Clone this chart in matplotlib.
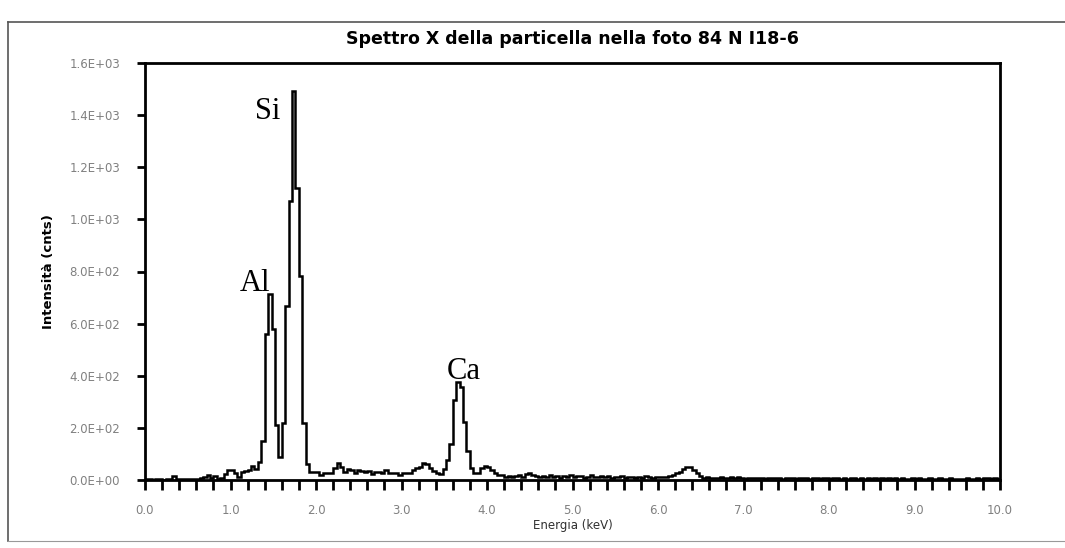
import numpy as np
import matplotlib
matplotlib.use("Agg")
import matplotlib.pyplot as plt
from matplotlib.ticker import MultipleLocator, FuncFormatter
from matplotlib.lines import Line2D

# ---------------- data ----------------
channel_width_keV = 0.04
counts = [
    # 0.00 - 0.96
    2, 2, 1, 2, 2, 1, 2, 2, 15, 3, 2, 4, 3, 2, 5, 4, 6, 12, 18, 8, 14, 5, 6, 22,
    # 0.96 - 1.92
    40, 40, 27, 12, 30, 34, 40, 55, 42, 69, 150, 560, 712, 580, 210, 90, 220, 667, 1071, 1491, 1122, 782, 220, 60,
    # 1.92 - 2.88
    32, 32, 32, 19, 28, 25, 25, 45, 64, 51, 32, 42, 40, 28, 38, 36, 32, 36, 23, 32, 32, 25, 38, 28,
    # 2.88 - 3.84
    28, 28, 19, 28, 28, 28, 38, 45, 51, 64, 60, 45, 35, 26, 22, 42, 77, 140, 306, 376, 357, 223, 110, 45,
    # 3.84 - 4.80
    26, 26, 46, 54, 50, 38, 26, 19, 19, 12, 15, 10, 14, 18, 12, 24, 26, 20, 14, 10, 16, 12, 18, 10,
    # 4.80 - 5.76
    14, 8, 16, 12, 18, 10, 14, 16, 8, 12, 18, 10, 12, 14, 10, 16, 8, 12, 10, 14, 8, 12, 10, 9,
    # 5.76 - 6.72
    12, 8, 14, 10, 9, 12, 10, 12, 10, 14, 20, 25, 30, 42, 51, 50, 38, 25, 14, 8, 10, 6, 9, 8,
    # 6.72 - 7.68
    10, 6, 8, 12, 6, 10, 8, 5, 9, 7, 8, 6, 9, 5, 7, 8, 6, 9, 5, 7, 6, 8, 5, 7,
    # 7.68 - 8.64
    6, 8, 5, 7, 6, 5, 8, 6, 5, 7, 6, 4, 7, 5, 6, 8, 5, 6, 4, 7, 5, 6, 5, 7,
    # 8.64 - 9.60
    4, 6, 5, 7, 4, 6, 5, 4, 6, 5, 7, 4, 5, 6, 4, 5, 7, 4, 5, 6, 4, 3, 5, 4,
    # 9.60 - 10.00
    6, 4, 5, 7, 4, 6, 8, 5, 6, 4,
]
peak_labels = ["Si", "Al", "Ca"]
peak_label_pos = [(1.43, 1360), (1.29, 700), (3.73, 360)]

title = "Spettro X della particella nella foto 84 N I18-6"
xlabel = "Energia (keV)"
ylabel = "Intensità (cnts)"

# ---------------- figure ----------------
fig = plt.figure(figsize=(10.65, 5.48), dpi=100)
fig.patch.set_facecolor("white")
ax = fig.add_axes([145 / 1065, 1 - 480 / 548, 855 / 1065, 417 / 548])

counts_arr = np.asarray(counts, dtype=float)
edges = np.arange(len(counts_arr) + 1) * channel_width_keV
ax.stairs(counts_arr, edges, color="black", linewidth=1.8, baseline=None)

ax.set_xlim(0, 10)
ax.set_ylim(0, 1600)

ax.xaxis.set_major_locator(MultipleLocator(1.0))
ax.xaxis.set_minor_locator(MultipleLocator(0.2))
ax.yaxis.set_major_locator(MultipleLocator(200))
ax.xaxis.set_major_formatter(FuncFormatter(lambda v, p: f"{v:.1f}"))


def sci(v, p):
    if v == 0:
        return "0.0E+00"
    e = int(np.floor(np.log10(abs(v))))
    m = v / 10 ** e
    return f"{m:.1f}E+{e:02d}"


ax.yaxis.set_major_formatter(FuncFormatter(sci))

for s in ax.spines.values():
    s.set_linewidth(2.0)
    s.set_color("black")

ax.tick_params(axis="both", which="both", direction="out", width=2.0,
               color="black", labelcolor="#808080", labelsize=8.5)
ax.tick_params(axis="x", which="major", length=7, pad=10)
ax.tick_params(axis="x", which="minor", length=7)
ax.tick_params(axis="y", which="major", length=6, pad=12)

ax.set_title(title, fontsize=12.5, fontweight="semibold",
             family=["Liberation Sans Narrow", "DejaVu Sans"], pad=14)
ax.set_xlabel(xlabel, fontsize=8.5, color="#303030", labelpad=2)
ax.set_ylabel(ylabel, fontsize=9.5, fontweight="bold",
              family=["Liberation Sans Narrow", "DejaVu Sans"], labelpad=10)

for lab, (xx, yy) in zip(peak_labels, peak_label_pos):
    ax.text(xx, yy, lab, fontsize=22, family="Liberation Serif",
            ha="center", va="bottom", color="black")

# scanned-page frame
fig.add_artist(Line2D([8 / 1065, 1.0], [1 - 22 / 548, 1 - 22 / 548],
                      transform=fig.transFigure, color="#555555", lw=1.2))
fig.add_artist(Line2D([8 / 1065, 8 / 1065], [1 - 22 / 548, 1 - 541 / 548],
                      transform=fig.transFigure, color="#555555", lw=1.2))
fig.add_artist(Line2D([8 / 1065, 1.0], [1 - 541 / 548, 1 - 541 / 548],
                      transform=fig.transFigure, color="#999999", lw=0.8))

fig.savefig("out.png", dpi=100, facecolor="white")
